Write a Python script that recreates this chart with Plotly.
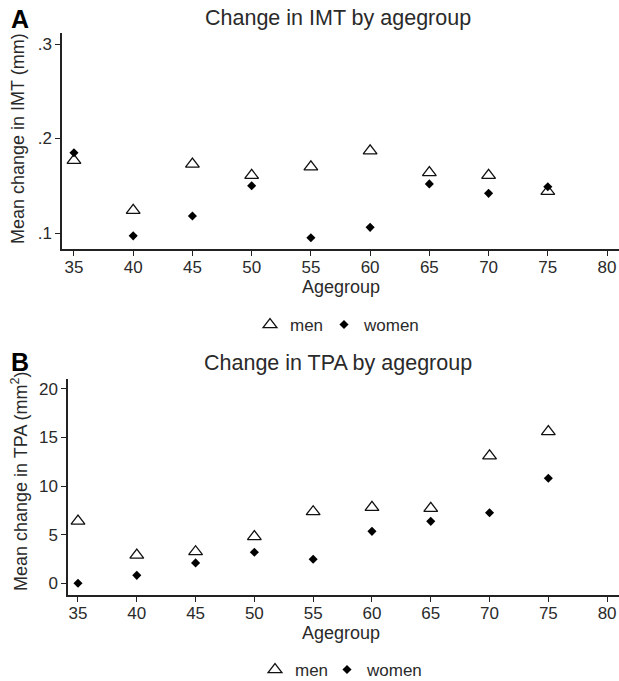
import plotly.graph_objects as go

agegroups = [35, 40, 45, 50, 55, 60, 65, 70, 75]
imt_men = [0.177, 0.124, 0.173, 0.161, 0.170, 0.187, 0.164, 0.161, 0.144]
imt_women = [0.185, 0.097, 0.118, 0.150, 0.095, 0.106, 0.152, 0.142, 0.149]
tpa_men = [6.4, 2.9, 3.25, 4.8, 7.36, 7.8, 7.7, 13.1, 15.6]
tpa_women = [0.0, 0.82, 2.1, 3.2, 2.47, 5.34, 6.37, 7.26, 10.8]

x_ticks = [35, 40, 45, 50, 55, 60, 65, 70, 75, 80]
imt_ticks = [0.1, 0.2, 0.3]
imt_ticklabels = [".1", ".2", ".3"]
tpa_ticks = [0, 5, 10, 15, 20]

W, H = 619, 681
FONT = "Liberation Sans, Arial, sans-serif"
TXT = "#2a2a2a"

def py(p):
    return 1 - p / H

def px(p):
    return p / W

fig = go.Figure()

men_style = dict(symbol="triangle-up", size=12, color="white", line=dict(color="#111", width=1.3))
women_style = dict(symbol="diamond", size=7, color="#000", line=dict(color="#000", width=0))

fig.add_trace(go.Scatter(x=agegroups, y=imt_men, mode="markers", name="men", marker=men_style,
                         xaxis="x", yaxis="y", legend="legend"))
fig.add_trace(go.Scatter(x=agegroups, y=imt_women, mode="markers", name="women", marker=women_style,
                         xaxis="x", yaxis="y", legend="legend2"))
fig.add_trace(go.Scatter(x=agegroups, y=tpa_men, mode="markers", name="men", marker=men_style,
                         xaxis="x2", yaxis="y2", legend="legend3"))
fig.add_trace(go.Scatter(x=agegroups, y=tpa_women, mode="markers", name="women", marker=women_style,
                         xaxis="x2", yaxis="y2", legend="legend4"))

axis_common = dict(showline=True, linecolor="#222", linewidth=1.5, ticks="outside", ticklen=5,
                   tickwidth=1.3, tickcolor="#222", showgrid=False, zeroline=False, automargin=False,
                   tickfont=dict(family=FONT, size=17, color=TXT))

LEG_OFF = 20  # offset from legend left edge to symbol centre (px)
legend_common = dict(orientation="h", xanchor="left", yanchor="middle",
                     font=dict(family=FONT, size=17, color=TXT), bgcolor="rgba(0,0,0,0)",
                     itemwidth=30)

fig.update_layout(
    width=W, height=H,
    margin=dict(l=0, r=0, t=0, b=0, autoexpand=False),
    plot_bgcolor="white", paper_bgcolor="white",
    font=dict(family=FONT, color=TXT),
    hovermode=False,
    xaxis=dict(domain=[px(62), 1], range=[33.99, 81.01], tickvals=x_ticks, anchor="y",
               ticklabelstandoff=-3, **axis_common),
    yaxis=dict(domain=[py(249), py(33)], range=[0.0831, 0.3117], tickvals=imt_ticks,
               ticktext=imt_ticklabels, anchor="x", **axis_common),
    xaxis2=dict(domain=[px(68), 1], range=[34.15, 81.01], tickvals=x_ticks, anchor="y2",
                ticklabelstandoff=-3, **axis_common),
    yaxis2=dict(domain=[py(595), py(379)], range=[-1.2, 21.0], tickvals=tpa_ticks, anchor="x2", **axis_common),
    legend=dict(x=px(270 - LEG_OFF), y=py(325), **legend_common),
    legend2=dict(x=px(344 - LEG_OFF), y=py(325), **legend_common),
    legend3=dict(x=px(275 - LEG_OFF), y=py(670), **legend_common),
    legend4=dict(x=px(347 - LEG_OFF), y=py(670), **legend_common),
    showlegend=True,
)

ann = []
def text(t, x, y, size, bold=False, angle=0, color=TXT):
    ann.append(dict(text=("<b>%s</b>" % t) if bold else t, x=px(x), y=py(y), xref="paper", yref="paper",
                    showarrow=False, xanchor="center", yanchor="middle", textangle=angle,
                    font=dict(family=FONT, size=size, color=color)))

text("A", 20, 19, 25, bold=True, color="#000")
text("Change in IMT by agegroup", 338, 18, 21.5)
text("Agegroup", 341, 287, 18)
text("Mean change in IMT (mm)", 18, 139, 18, angle=-90)
text("B", 20, 362, 25, bold=True, color="#000")
text("Change in TPA by agegroup", 338, 363, 21.5)
text("Agegroup", 341, 633, 18)
text("Mean change in TPA (mm<sup>2</sup>)", 20, 482, 18, angle=-90)
fig.update_layout(annotations=ann)

fig.write_html("out.html", config={"displayModeBar": False},
               post_script="document.body.style.margin='0';document.body.style.padding='0';"
                           "document.body.style.overflow='hidden';")
